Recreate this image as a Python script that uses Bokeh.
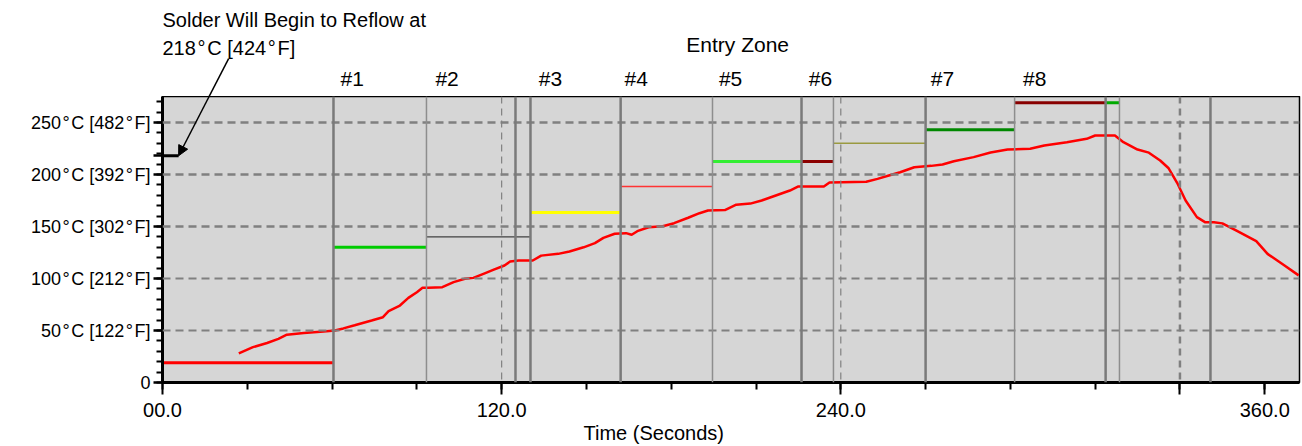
from bokeh.plotting import figure
from bokeh.layouts import column
from bokeh.models import Range1d, FixedTicker, Span, Label, Arrow, NormalHead, ColumnDataSource, Title
from bokeh.embed import file_html
from bokeh.resources import INLINE

FONT = "Liberation Sans"

# ---- data ----
profile_t = [27, 32, 37, 41, 44, 50, 57, 61, 64, 68,
             74, 78, 80, 84, 87, 90, 92, 94, 99, 103,
             107, 110, 114, 117, 121, 123, 126, 131, 134, 140,
             144, 149, 153, 156, 160, 164, 166, 168, 172, 177,
             181, 186, 190, 193, 199, 203, 208, 212, 217, 222,
             225, 234, 236, 249, 253, 257, 261, 266, 272, 276,
             280, 287, 293, 299, 307, 312, 320, 327, 330, 337,
             340, 345, 349, 353, 356, 359, 362, 366, 369, 372,
             375, 380, 387, 391, 397, 402]
profile_c = [28, 34, 38, 42, 46, 47.5, 49, 50, 52, 55,
             59.6, 62.8, 68.6, 74, 81.4, 86.8, 91, 91, 91.7, 96.5,
             99.7, 100.6, 105, 108.3, 112.5, 116.3, 117.3, 117.3, 122, 123.7,
             126, 130, 134, 139, 143, 143.6, 142, 145.5, 149.3, 150.3,
             153.2, 158.4, 162.8, 165.4, 165.8, 171, 172, 175, 179.8, 184.6,
             188.5, 188.5, 192.3, 193, 195.8, 199, 202.2, 207, 208.3, 209.6,
             212.8, 216.7, 221.2, 224, 224.7, 227.9, 231.1, 234.3, 237.5, 237.5,
             231.1, 224, 221, 213.5, 206, 192, 175, 159, 154, 154,
             153, 146, 136, 123.7, 112.5, 103]

zone_edges = [60.5, 93.4, 124.9, 130.2, 162.1, 194.6, 226.1, 237.4, 270.0, 301.5, 333.7, 338.6, 370.8]
zone_edge_thick = [True, False, True, True, True, False, True, False, True, False, True, False, True]

zone_names = ["#1", "#2", "#3", "#4", "#5", "#6", "#7", "#8"]
zone_name_t = [67.1, 100.7, 137.3, 167.6, 201.0, 232.8, 276.0, 308.6]

set_start = [0, 60.5, 93.4, 130.2, 162.1, 194.6, 226.1, 237.4, 270.0, 301.5, 333.7]
set_end = [60.5, 93.4, 130.2, 162.1, 194.6, 226.1, 237.4, 270.0, 301.5, 333.7, 338.6]
set_temp = [19, 130, 140, 163.5, 188.5, 212.5, 212.5, 230, 243, 269, 269]
set_color = ["#ff0000", "#00cc00", "#404040", "#ffff00", "#ff3333", "#33ee33",
             "#8b0000", "#9a9a40", "#008800", "#880000", "#00aa00"]
set_width = [3, 3, 1.2, 3, 1.5, 3, 3, 1.5, 3, 3, 3]

reflow_temp = 218
y_ticks = [0, 50, 100, 150, 200, reflow_temp, 250]
y_tick_labels = ["0", "50\u200a°\u200aC [122\u200a°\u200aF]", "100\u200a°\u200aC [212\u200a°\u200aF]",
                 "150\u200a°\u200aC [302\u200a°\u200aF]", "200\u200a°\u200aC [392\u200a°\u200aF]", "",
                 "250\u200a°\u200aC [482\u200a°\u200aF]"]
x_grid_major = [0, 120, 240, 360]
x_label_ticks = [0, 120, 240, 360, 390]
x_label_text = ["00.0", "120.0", "240.0", "", "360.0"]

annot_line1 = "Solder Will Begin to Reflow at"
annot_line2 = "218\u200a°\u200aC [424\u200a°\u200aF]"
arrow_start = (23.4, 311.5)
arrow_tip = (5.7, reflow_temp)

# ---- layout constants (pixels) ----
W, H_TOP, H_MAIN = 1302, 96, 350
LEFT, RIGHT, BOTTOM = 162, 3, 64
X_MAX, Y_MAX = 402.3, 275.0
px_per_c = (H_MAIN - BOTTOM) / Y_MAX

# ---- main figure ----
p = figure(width=W, height=H_MAIN, output_backend="svg", toolbar_location=None,
           x_range=Range1d(0, X_MAX), y_range=Range1d(0, Y_MAX),
           min_border_left=LEFT, min_border_right=RIGHT, min_border_top=0, min_border_bottom=BOTTOM)
p.background_fill_color = "#d6d6d6"
p.border_fill_color = "white"
p.outline_line_color = "black"
p.outline_line_width = 1.5
p.xgrid.visible = False
p.ygrid.visible = False

ya = p.yaxis[0]
ya.ticker = FixedTicker(ticks=y_ticks, minor_ticks=list(range(0, 271, 10)))
ya.major_label_overrides = {t: l for t, l in zip(y_ticks, y_tick_labels)}
ya.major_label_text_font = FONT
ya.major_label_text_font_size = "18px"
ya.major_label_text_color = "black"
ya.axis_line_width = 3
ya.axis_line_color = "black"
ya.major_tick_out = 9
ya.major_tick_in = 0
ya.minor_tick_out = 6
ya.minor_tick_in = 0
ya.major_tick_line_width = 2.5
ya.minor_tick_line_width = 2
ya.major_label_standoff = 3

xa = p.xaxis[0]
xa.ticker = FixedTicker(ticks=x_label_ticks, minor_ticks=list(range(0, 400, 30)))
xa.major_label_overrides = {t: l for t, l in zip(x_label_ticks, x_label_text)}
xa.major_label_text_font = FONT
xa.major_label_text_font_size = "20px"
xa.major_label_text_color = "black"
xa.axis_line_width = 3
xa.axis_line_color = "black"
xa.major_tick_out = 12
xa.major_tick_in = 0
xa.minor_tick_out = 7
xa.minor_tick_in = 0
xa.major_tick_line_width = 2
xa.minor_tick_line_width = 2
xa.major_label_standoff = 8

p.add_layout(Title(text="Time (Seconds)", align="left", offset=421, text_font=FONT,
                   text_font_size="20px", text_font_style="normal", text_color="black",
                   standoff=0), "below")

for yv in [50, 100, 150, 200, 250]:
    p.add_layout(Span(location=yv, dimension="width", line_color="#808080",
                      line_width=2.5 if yv >= 150 else 1.8, line_dash="8 5"))
for xv in x_grid_major[1:]:
    p.add_layout(Span(location=xv, dimension="height", line_color="#808080",
                      line_width=2.5 if xv == 360 else 1.2, line_dash="7 5"))
for xv, thick in zip(zone_edges, zone_edge_thick):
    p.add_layout(Span(location=xv, dimension="height",
                      line_color="#7a7a7a" if thick else "#8e8e8e",
                      line_width=2.5 if thick else 1.5))

src = ColumnDataSource(dict(x0=set_start, x1=set_end, y=set_temp, c=set_color, w=set_width))
p.segment(x0="x0", y0="y", x1="x1", y1="y", line_color="c", line_width="w", source=src)

p.line(profile_t, profile_c, line_color="#ff0000", line_width=2.5)

# arrow part inside the frame
frac = (arrow_start[1] - Y_MAX) / (arrow_start[1] - arrow_tip[1])
x_cross = arrow_start[0] + frac * (arrow_tip[0] - arrow_start[0])
p.add_layout(Arrow(x_start=x_cross, y_start=Y_MAX, x_end=arrow_tip[0], y_end=arrow_tip[1],
                   line_color="black", line_width=1.5,
                   end=NormalHead(size=10, fill_color="black", line_color="black")))
p.segment(x0=[0], y0=[reflow_temp], x1=[arrow_tip[0]], y1=[reflow_temp], line_color="black", line_width=3)

# ---- top header figure (frame is aligned with the main frame by the column) ----
top = figure(width=W, height=H_TOP, output_backend="svg", toolbar_location=None,
             x_range=Range1d(0, X_MAX),
             y_range=Range1d(Y_MAX, Y_MAX + H_TOP / px_per_c),
             x_axis_location=None, y_axis_location=None,
             min_border_left=LEFT, min_border_right=RIGHT, min_border_top=0, min_border_bottom=0)
top.outline_line_color = None
top.background_fill_color = "white"
top.border_fill_color = "white"
top.grid.visible = False

for name, t in zip(zone_names, zone_name_t):
    top.add_layout(Label(x=t, y=292, text=name, text_align="center", text_baseline="middle",
                         text_font=FONT, text_font_size="21px", text_color="black"))
top.add_layout(Label(x=203.5, y=325, text="Entry Zone", text_align="center", text_baseline="middle",
                     text_font=FONT, text_font_size="21px", text_color="black"))
top.add_layout(Label(x=0, y=349, text=annot_line1, text_align="left", text_baseline="middle",
                     text_font=FONT, text_font_size="20px", text_color="black"))
top.add_layout(Label(x=0, y=322, text=annot_line2, text_align="left", text_baseline="middle",
                     text_font=FONT, text_font_size="20px", text_color="black"))
top.segment(x0=[arrow_start[0]], y0=[arrow_start[1]], x1=[x_cross], y1=[Y_MAX],
            line_color="black", line_width=1.5)

layout = column(top, p, spacing=0)
open("out.html", "w").write(file_html(layout, INLINE))
